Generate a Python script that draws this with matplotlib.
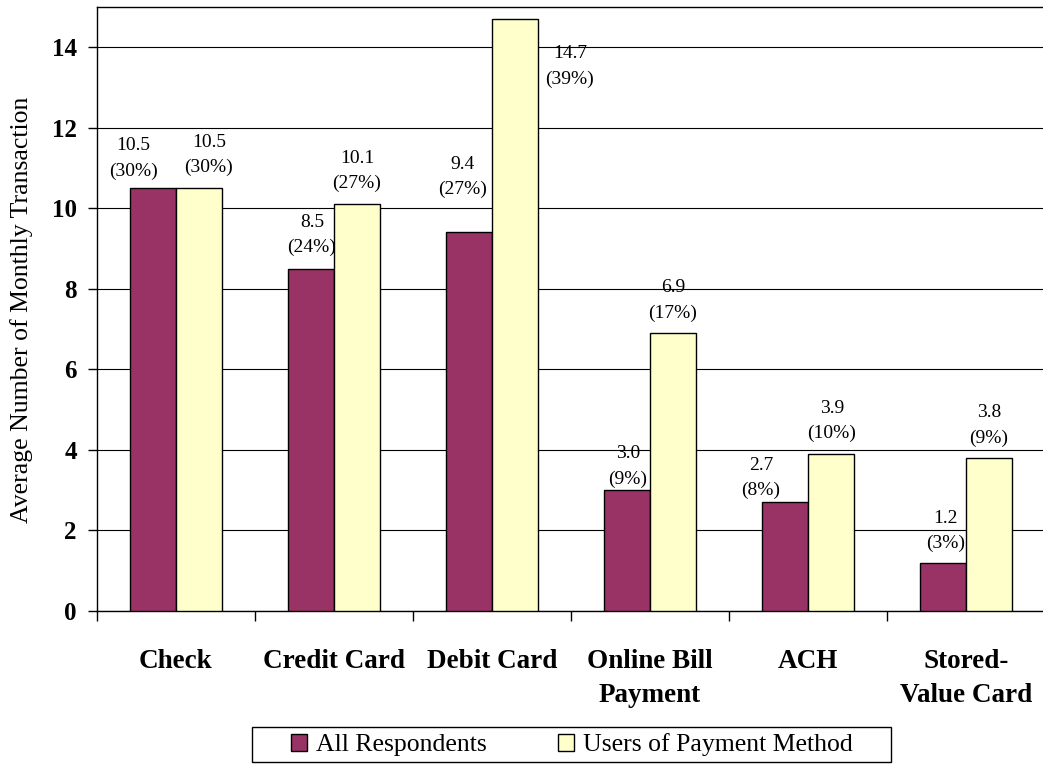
import matplotlib
matplotlib.use("Agg")
import matplotlib.pyplot as plt
from matplotlib.patches import Patch, Rectangle
import numpy as np

categories = ["Check", "Credit Card", "Debit Card", "Online Bill\nPayment", "ACH", "Stored-\nValue Card"]
all_respondents = [10.5, 8.5, 9.4, 3.0, 2.7, 1.2]
all_pct = [30, 24, 27, 9, 8, 3]
users_of_method = [10.5, 10.1, 14.7, 6.9, 3.9, 3.8]
users_pct = [30, 27, 39, 17, 10, 9]
series_names = ["All Respondents", "Users of Payment Method"]
y_ticks = [0, 2, 4, 6, 8, 10, 12, 14]
y_label = "Average Number of Monthly Transaction"

# label placement (style only): offsets (x in category units, y in value units)
lab_off_all = [(-0.127, 0.74), (0.006, 0.83), (-0.044, 1.38), (0.006, 0.59), (-0.152, 0.60), (0.013, 0.78)]
lab_off_users = [(0.063, 0.82), (0.0, 0.82), (0.348, -1.18), (0.0, 0.81), (0.006, 0.81), (0.0, 0.81)]

plt.rcParams['font.family'] = ['Liberation Serif', 'DejaVu Serif']

W, H = 1043, 765
fig = plt.figure(figsize=(W / 100, H / 100), dpi=100)
ax = fig.add_axes([97 / W, 1 - 611 / H, 948 / W, (611 - 7) / H])

x = np.arange(len(categories))
bw = 0.29
c1, c2 = "#993366", "#FFFFCC"
ax.bar(x - bw / 2, all_respondents, bw, color=c1, edgecolor="black", linewidth=1.0, zorder=3)
ax.bar(x + bw / 2, users_of_method, bw, color=c2, edgecolor="black", linewidth=1.0, zorder=3)

for i in range(len(categories)):
    dx, dy = lab_off_all[i]
    ax.text(x[i] - bw / 2 + dx, all_respondents[i] + dy,
            f"{all_respondents[i]:.1f}\n({all_pct[i]}%)",
            ha="center", va="center", fontsize=14, linespacing=1.6, zorder=4)
    dx, dy = lab_off_users[i]
    ax.text(x[i] + bw / 2 + dx, users_of_method[i] + dy,
            f"{users_of_method[i]:.1f}\n({users_pct[i]}%)",
            ha="center", va="center", fontsize=14, linespacing=1.6, zorder=4)

ax.set_xlim(-0.5, len(categories) - 0.5)
ax.set_ylim(0, 15)
ax.set_yticks(y_ticks)
ax.set_yticklabels([str(t) for t in y_ticks], fontsize=18, fontweight="bold")
ax.tick_params(axis="y", direction="out", length=6.5, width=1, pad=8)
ax.yaxis.grid(True, color="black", linewidth=0.8, zorder=0)
ax.set_axisbelow(True)

ax.set_xticks(np.arange(len(categories) + 1) - 0.5)
ax.set_xticklabels([])
ax.tick_params(axis="x", which="major", direction="out", length=7, width=1)
ax.set_xticks(x, minor=True)
ax.set_xticklabels(categories, minor=True, fontsize=19.5, fontweight="bold", linespacing=1.5, va="top")
ax.tick_params(axis="x", which="minor", length=0, pad=27)

for s in ["left", "bottom", "top"]:
    ax.spines[s].set_color("black")
    ax.spines[s].set_linewidth(1.0)
ax.spines["right"].set_visible(False)

fig.text(22 / W, 1 - 310 / H, y_label, rotation=90, ha="center", va="center", fontsize=18.5)

handles = [Patch(facecolor=c1, edgecolor="black", linewidth=1.0),
           Patch(facecolor=c2, edgecolor="black", linewidth=1.0)]
leg = fig.legend(handles, series_names, loc="center", bbox_to_anchor=(572 / W, 1 - 745 / H),
                 ncol=2, fontsize=18.5, frameon=False,
                 handlelength=0.62, handleheight=0.62, handletextpad=0.35, columnspacing=2.8,
                 borderpad=0.15, borderaxespad=0)
fig.add_artist(Rectangle((252 / W, 1 - 762 / H), (891 - 252) / W, (762 - 727) / H,
                         transform=fig.transFigure, facecolor="none", edgecolor="black", linewidth=1.0))

fig.savefig("out.png", dpi=100)
